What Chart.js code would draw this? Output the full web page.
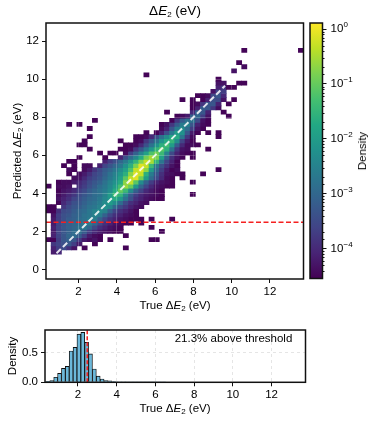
<!DOCTYPE html>
<html>
<head>
<meta charset="utf-8">
<script src="https://cdn.jsdelivr.net/npm/chart.js@4/dist/chart.umd.min.js"></script>
<style>
  html, body { margin: 0; background: #fff; }
  #page { position: relative; width: 374px; height: 422px; overflow: hidden; font-family: "Liberation Sans", Arial, sans-serif; color: #000; }
  canvas { position: absolute; }
  .lbl { position: absolute; white-space: nowrap; font-size: 11.5px; line-height: 14px; transform: translate(-50%, -50%); }
  .rot { transform: translate(-50%, -50%) rotate(-90deg); }
  .lbl sub { font-size: 8px; line-height: 0; vertical-align: -2px; }
</style>
</head>
<body>
<div id="page">
  <canvas id="main" width="374" height="300" style="left:0;top:0"></canvas>
  <canvas id="cbar" width="74" height="300" style="left:300px;top:0"></canvas>
  <canvas id="hist" width="374" height="90" style="left:0;top:320px"></canvas>
  <div class="lbl" style="left:175px;top:11px;font-size:13.5px">Δ<i>E</i><sub>2</sub> (eV)</div>
  <div class="lbl rot" style="left:17px;top:151px">Predicted Δ<i>E</i><sub>2</sub> (eV)</div>
  <div class="lbl" style="left:175px;top:305px">True Δ<i>E</i><sub>2</sub> (eV)</div>
  <div class="lbl rot" style="left:362px;top:151px">Density</div>
  <div class="lbl rot" style="left:12px;top:356px">Density</div>
  <div class="lbl" style="left:233.5px;top:338px">21.3% above threshold</div>
  <div class="lbl" style="left:175px;top:408px">True Δ<i>E</i><sub>2</sub> (eV)</div>
</div>
<script>
// heatmap bins
const binX0 = 0.3, binW = 0.269;
const binY0 = 0.81, binH = 0.2163;

// one entry per y bin (bottom to top), each a list of runs: [first column, values...]
// values are log10(density) in tenths, -45 means 10^-4.5
const logDensityRows = [
  [[1,-42,-40]],
  [[1,-41,-37,-35,-39,-43],[7,-45],[15,-45]],
  [[1,-38,-36,-34,-33,-37,-42],[9,-45]],
  [[0,-45,-45,-37,-33,-31,-33,-38,-42,-44,-43,-45],[12,-45],[20,-45,-45]],
  [[1,-41,-36,-33,-30,-29,-32,-37,-42,-44,-45],[15,-45]],
  [[1,-42,-36,-33,-31,-29,-28,-32,-37,-40,-42,-43,-44,-45,-45],[22,-45]],
  [[1,-41,-36,-33,-31,-30,-28,-27,-30,-35,-39,-41,-43,-44,-45],[20,-45]],
  [[1,-42,-36,-33,-31,-30,-29,-27,-26,-30,-35,-39,-41,-43,-44,-45,-45],[18,-45]],
  [[1,-42,-37,-34,-32,-31,-29,-28,-26,-26,-31,-36,-39,-41,-43,-44,-45,-45,-45],[20,-45],[24,-45]],
  [[1,-43,-37,-34,-33,-31,-30,-28,-27,-25,-26,-31,-36,-39,-41,-43,-44,-45]],
  [[0,-45,-45,-39,-35,-34,-32,-30,-29,-27,-25,-23,-25,-31,-36,-39,-41,-43,-45]],
  [[0,-45,-45],[3,-38,-35,-33,-32,-30,-28,-27,-25,-22,-24,-30,-35,-38,-41,-43,-44]],
  [[2,-45,-40,-37,-34,-33,-31,-29,-28,-26,-23,-20,-23,-29,-35,-39,-41,-43,-44]],
  [[2,-43,-41,-39,-36,-34,-32,-30,-29,-27,-24,-21,-17,-21,-28,-34,-39,-41,-43,-44,-45,-45]],
  [[2,-44,-42,-40,-38,-35,-33,-31,-29,-28,-25,-20,-13,-15,-24,-32,-37,-40,-42,-43,-44,-45],[28,-45]],
  [[2,-45,-43,-42,-40,-37,-35,-32,-30,-28,-26,-23,-17,-10,-14,-23,-31,-36,-40,-42,-44,-45]],
  [[0,-45],[2,-44,-44,-43],[6,-39,-37,-34,-32,-29,-27,-24,-20,-13,-6,-10,-21,-30,-36,-40,-43,-44,-45,-45]],
  [[2,-45,-44,-44,-42,-40,-38,-35,-33,-31,-28,-25,-22,-17,-7,-3,-11,-23,-31,-37,-41,-43,-44,-45],[28,-45]],
  [[5,-44,-43,-40,-37,-35,-33,-30,-27,-24,-19,-11,-3,-1,-9,-20,-29,-35,-40,-44,-45],[26,-45]],
  [[4,-45],[6,-44,-42,-39,-36,-34,-31,-28,-25,-21,-16,-7,-1,-3,-16,-26,-33,-39,-43,-44,-45,-45],[30,-45]],
  [[4,-44,-45],[7,-44,-42,-38,-35,-32,-30,-27,-23,-19,-12,-3,-1,-7,-20,-30,-37,-42,-45,-44],[33,-45]],
  [[3,-45],[5,-45],[7,-44,-44],[10,-41,-36,-33,-30,-27,-22,-16,-8,-1,-3,-14,-27,-34,-39,-43,-45]],
  [[4,-45,-45],[11,-41,-37,-34,-30,-26,-21,-15,-8,-3,-5,-15,-27,-36,-41,-45]],
  [[6,-45],[11,-45],[14,-41,-34,-29,-24,-17,-9,-5,-8,-19,-31,-39,-43,-45],[28,-45]],
  [[10,-45],[12,-45,-45],[15,-44,-37,-31,-25,-19,-12,-9,-14,-25,-35,-41,-44,-45,-45]],
  [[8,-45],[14,-45,-45,-44,-38,-33,-27,-21,-15,-11,-16,-28,-38,-43,-44],[31,-45]],
  [[6,-45,-45],[15,-45,-45,-44,-40,-34,-28,-22,-16,-13,-20,-32,-40,-44,-44,-45]],
  [[7,-45],[14,-45],[17,-45,-44,-38,-33,-28,-22,-17,-15,-23,-36,-42,-45]],
  [[8,-45],[17,-45,-45,-44,-40,-34,-28,-23,-18,-17,-27,-38,-44],[33,-45]],
  [[19,-45],[21,-45,-41,-34,-27,-20,-22,-33,-42,-45],[31,-45],[33,-45]],
  [[8,-45],[22,-44,-41,-33,-26,-23,-29,-37,-43,-45]],
  [[4,-45],[6,-45],[22,-45,-43,-38,-32,-26,-25,-33,-41,-44,-45]],
  [[9,-45],[24,-45,-38,-32,-28,-28,-35,-43,-45]],
  [[25,-45,-44,-42,-31,-30,-37,-43],[35,-45]],
  [[23,-45],[28,-40,-31,-33,-41],[34,-45]],
  [[28,-45,-41,-32,-33,-38,-44]],
  [[28,-45,-44,-38,-33,-33,-41],[35,-45]],
  [[26,-45],[28,-45],[30,-45,-41,-34,-35,-43],[36,-45]],
  [[29,-45,-45,-44,-35,-33,-40]],
  [[32,-43,-36,-37]],
  [[33,-41,-38,-45,-45]],
  [[33,-43,-43],[37,-45,-45]],
  [[33,-45]],
  [[19,-45]],
  [[36,-43]],
  [[38,-44]],
  [[37,-45]],
  [],
  [],
  [[38,-45],[49,-45]]
];

// histogram of true values
const histCenters = [0.45,0.65,0.85,1.05,1.25,1.45,1.65,1.85,2.05,2.25,2.45,2.65,2.85,3.05,3.25,3.45,3.65,3.85,4.05,4.25,4.45,4.65,4.85,5.05,5.25,5.45,5.65,5.85,6.05,6.25,6.45];
const histDensity = [.015,.03,.085,.15,.235,.27,.53,.59,.815,.845,.675,.48,.225,.105,.055,.03,.025,.012,.008,.007,.006,.003,.002,.002,.001,.001,.001,.001,.001,.001,.001];

// guide lines
const threshold = 2.48;
const diagonalEnds = [0.85, 9.65];

// axes
const axisMinX = 0.3, axisMaxX = 13.75;
const axisMinY = -0.5, axisMaxY = 12.95;
const histMaxY = 0.885;
const xTicks = [2,4,6,8,10,12];
const yTicks = [0,2,4,6,8,10,12];
const histYTicks = [0,0.5];
const logColorMin = -4.54, logColorMax = 0.11;

const viridis = ['#440154','#482475','#414487','#355f8d','#2a788e','#21918c','#22a884','#44bf70','#7ad151','#bddf26','#fde725'];

function hexToRgb(h) {
  return [1,3,5].map(i => parseInt(h.substr(i,2),16));
}
function viridisColor(t) {
  t = Math.max(0, Math.min(1, t)) * (viridis.length-1);
  const i = Math.min(Math.floor(t), viridis.length-2);
  const a = hexToRgb(viridis[i]), b = hexToRgb(viridis[i+1]), f = t-i;
  return 'rgb(' + a.map((v,k) => Math.round(v+(b[k]-v)*f)).join(',') + ')';
}

const heatBars = [];
logDensityRows.forEach((runs, r) => {
  runs.forEach(run => {
    run.slice(1).forEach((v, k) => {
      heatBars.push({
        x: binX0 + (run[0]+k+0.5)*binW,
        y: [binY0 + r*binH, binY0 + (r+1)*binH],
        logD: v/10
      });
    });
  });
});

Chart.defaults.font.family = '"Liberation Sans", Arial, sans-serif';
Chart.defaults.font.size = 11.5;
Chart.defaults.color = '#000';

// full box round the plot area, axes only give left and bottom
const boxFrame = {
  id: 'boxFrame',
  afterDraw(chart) {
    const c = chart.ctx, a = chart.chartArea;
    c.save();
    c.strokeStyle = '#111';
    c.lineWidth = 1.5;
    c.strokeRect(a.left, a.top, a.right-a.left, a.bottom-a.top);
    c.restore();
  }
};

function fixedAxis(size, key) {
  return s => { s[key] = size; };
}

new Chart(document.getElementById('main'), {
  type: 'bar',
  data: {
    datasets: [
      {
        type: 'line',
        data: [{x:diagonalEnds[0],y:diagonalEnds[0]},{x:diagonalEnds[1],y:diagonalEnds[1]}],
        borderColor: 'rgba(255,255,255,0.85)',
        borderWidth: 2,
        borderDash: [6,3],
        pointRadius: 0,
        order: 1
      },
      {
        type: 'line',
        data: [{x:axisMinX,y:threshold},{x:axisMaxX,y:threshold}],
        borderColor: '#f52020',
        borderWidth: 1.5,
        borderDash: [5,2.5],
        pointRadius: 0,
        order: 0
      },
      {
        data: heatBars,
        backgroundColor: c => viridisColor((c.raw.logD-logColorMin)/(logColorMax-logColorMin)),
        barThickness: binW*19.14,
        order: 2
      }
    ]
  },
  options: {
    responsive: false,
    animation: false,
    layout: { padding: { left: 0, top: 23, right: 70.5, bottom: 0 } },
    plugins: { legend: { display: false }, tooltip: { enabled: false } },
    scales: {
      x: {
        type: 'linear', offset: false, min: axisMinX, max: axisMaxX,
        afterFit: fixedAxis(21, 'height'),
        afterBuildTicks: s => { s.ticks = xTicks.map(v => ({value:v})); },
        border: { display: false },
        grid: { offset: false, color: 'rgba(255,255,255,0.2)', tickColor: '#111', tickLength: 4, z: 1 },
        ticks: { maxRotation: 0, padding: 2, callback: v => v }
      },
      y: {
        min: axisMinY, max: axisMaxY,
        afterFit: fixedAxis(46, 'width'),
        afterBuildTicks: s => { s.ticks = yTicks.map(v => ({value:v})); },
        border: { display: false },
        grid: { color: 'rgba(255,255,255,0.2)', tickColor: '#111', tickLength: 4, z: 1 },
        ticks: { padding: 3, callback: v => v }
      }
    }
  },
  plugins: [boxFrame]
});

// colorbar: one floating bar filled with the colormap, labels as 10 plus a small exponent
const colorbarMarks = {
  id: 'colorbarMarks',
  afterDraw(chart) {
    const c = chart.ctx, s = chart.scales.y;
    c.save();
    c.fillStyle = '#000';
    c.strokeStyle = '#111';
    c.lineWidth = 1;
    c.textBaseline = 'middle';
    c.font = '8px "Liberation Sans", Arial, sans-serif';
    s.ticks.forEach(t => {
      const y = Math.round(s.getPixelForValue(t.value)) + 0.5;
      const e = Math.log10(t.value);
      if (Math.abs(e-Math.round(e)) < 1e-6) {
        const label = Math.round(e) < 0 ? '\u2212' + Math.abs(Math.round(e)) : String(Math.round(e));
        c.fillText(label, chart.chartArea.right + 21, y-5);
      } else if (t.value > s.min*1.01 && t.value < s.max*0.99) {
        c.beginPath();
        c.moveTo(chart.chartArea.right, y);
        c.lineTo(chart.chartArea.right+2, y);
        c.stroke();
      }
    });
    c.restore();
  }
};

new Chart(document.getElementById('cbar'), {
  type: 'bar',
  data: {
    labels: ['Density'],
    datasets: [{
      data: [[Math.pow(10,logColorMin), Math.pow(10,logColorMax)]],
      barPercentage: 1,
      categoryPercentage: 1,
      backgroundColor: c => {
        const a = c.chart.chartArea;
        if (!a) return '#21918c';
        const g = c.chart.ctx.createLinearGradient(0, a.bottom, 0, a.top);
        viridis.forEach((col,i) => g.addColorStop(i/(viridis.length-1), col));
        return g;
      }
    }]
  },
  options: {
    responsive: false,
    animation: false,
    layout: { padding: { left: 10, top: 23, right: 0, bottom: 21.5 } },
    plugins: { legend: { display: false }, tooltip: { enabled: false } },
    scales: {
      x: { display: false },
      y: {
        type: 'logarithmic',
        position: 'right',
        min: Math.pow(10,logColorMin),
        max: Math.pow(10,logColorMax),
        afterFit: fixedAxis(51.5, 'width'),
        border: { display: false },
        grid: {
          drawOnChartArea: false,
          tickLength: 4,
          tickColor: c => (c.tick && c.tick.label) ? '#111' : 'rgba(0,0,0,0)'
        },
        ticks: {
          autoSkip: false,
          padding: 4,
          major: { enabled: true },
          callback: v => {
            const e = Math.log10(v);
            return Math.abs(e-Math.round(e)) < 1e-6 ? '10' : '';
          }
        }
      }
    }
  },
  plugins: [boxFrame, colorbarMarks]
});

new Chart(document.getElementById('hist'), {
  type: 'bar',
  data: {
    datasets: [
      {
        type: 'line',
        data: [{x:threshold,y:0},{x:threshold,y:histMaxY}],
        borderColor: '#f52020',
        borderWidth: 1.5,
        borderDash: [4,2],
        pointRadius: 0,
        order: 0
      },
      {
        data: histCenters.map((x,i) => ({x:x, y:histDensity[i]})),
        backgroundColor: '#6cb8da',
        borderColor: '#111',
        borderWidth: 0.9,
        barPercentage: 1,
        categoryPercentage: 1,
        order: 1
      }
    ]
  },
  options: {
    responsive: false,
    animation: false,
    layout: { padding: { left: 0, top: 10, right: 68.5, bottom: 0 } },
    plugins: { legend: { display: false }, tooltip: { enabled: false } },
    scales: {
      x: {
        type: 'linear', offset: false, min: axisMinX, max: axisMaxX,
        afterFit: fixedAxis(27.7, 'height'),
        afterBuildTicks: s => { s.ticks = xTicks.map(v => ({value:v})); },
        border: { display: false, dash: [3,3] },
        grid: { offset: false, color: 'rgba(0,0,0,0.1)', tickColor: '#111', tickLength: 4 },
        ticks: { maxRotation: 0, padding: 2, callback: v => v }
      },
      y: {
        min: 0, max: histMaxY,
        afterFit: fixedAxis(45, 'width'),
        afterBuildTicks: s => { s.ticks = histYTicks.map(v => ({value:v})); },
        border: { display: false, dash: [3,3] },
        grid: { color: 'rgba(0,0,0,0.1)', tickColor: '#111', tickLength: 4 },
        ticks: { padding: 3, callback: v => v.toFixed(1) }
      }
    }
  },
  plugins: [boxFrame]
});
</script>
</body>
</html>
